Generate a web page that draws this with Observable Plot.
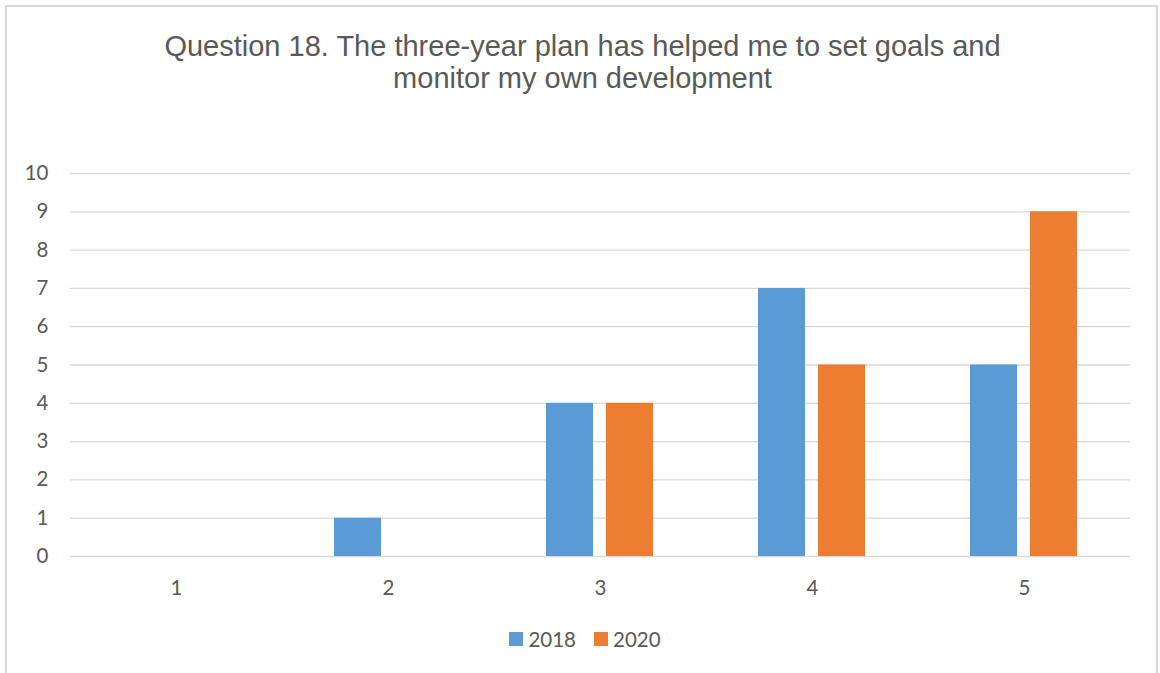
<!DOCTYPE html>
<html>
<head>
<meta charset="utf-8">
<script src="https://cdn.jsdelivr.net/npm/d3@7"></script>
<script src="https://cdn.jsdelivr.net/npm/@observablehq/plot@0.6"></script>
<style>
  html, body { margin: 0; padding: 0; background: #fff; }
  #wrap { position: relative; width: 1160px; height: 673px; overflow: hidden; background: #fff; }
  #frame { position: absolute; left: 5px; top: 5px; width: 1153px; height: 700px; border: 2px solid #d9d9d9; box-sizing: border-box; }
  #title { position: absolute; left: 0; width: 1165px; top: 30px; text-align: center; font-family: "Liberation Sans", Arial, sans-serif; font-size: 29px; line-height: 32px; color: #595959; }
  #chart { position: absolute; left: 0; top: 0; }
  #legend { position: absolute; top: 627px; left: 0; width: 1160px; display: flex; justify-content: center; gap: 18px; font-family: Lato, "Open Sans", sans-serif; font-size: 20.5px; color: #595959; padding-left: 10px; box-sizing: border-box; }
  .item { display: flex; align-items: center; gap: 5px; }
  .sw { width: 14px; height: 14px; display: inline-block; }
</style>
</head>
<body>
<div id="wrap">
  <div id="frame"></div>
  <div id="title">Question 18. The three-year plan has helped me to set goals and<br>monitor my own development</div>
  <div id="chart"></div>
  <div id="legend"></div>
</div>
<script>
const categories = ["1", "2", "3", "4", "5"];
const series = ["2018", "2020"];
const values2018 = [0, 1, 4, 7, 5];
const values2020 = [0, 0, 4, 5, 9];
const colors = ["#5B9BD5", "#ED7D31"];
const yTicks = [0, 1, 2, 3, 4, 5, 6, 7, 8, 9, 10];

const data = [];
categories.forEach((c, i) => {
  data.push({category: c, year: series[0], value: values2018[i]});
  data.push({category: c, year: series[1], value: values2020[i]});
});

const chart = Plot.plot({
  width: 1160,
  height: 620,
  marginTop: 173,
  marginBottom: 64,
  marginLeft: 70,
  marginRight: 30,
  style: {fontFamily: "Lato, 'Open Sans', sans-serif", fontSize: "20.5px", color: "#595959", background: "transparent"},
  fx: {domain: categories, padding: 0, label: null, tickSize: 0, tickPadding: 24, axis: "bottom"},
  x: {domain: series, paddingInner: 0.213, paddingOuter: 0.852, axis: null},
  y: {domain: [0, 10], ticks: yTicks, tickSize: 0, tickPadding: 22, label: null, tickFormat: d => String(d)},
  color: {domain: series, range: colors},
  marks: [
    Plot.ruleY(yTicks, {y: d => d, stroke: "#d9d9d9", strokeWidth: 1.3}),
    Plot.barY(data, {fx: "category", x: "year", y: "value", fill: "year"})
  ]
});
document.getElementById("chart").appendChild(chart);

const legend = document.getElementById("legend");
series.forEach((s, i) => {
  const item = document.createElement("div");
  item.className = "item";
  const sw = document.createElement("span");
  sw.className = "sw";
  sw.style.background = colors[i];
  const t = document.createElement("span");
  t.textContent = s;
  item.appendChild(sw);
  item.appendChild(t);
  legend.appendChild(item);
});
</script>
</body>
</html>
